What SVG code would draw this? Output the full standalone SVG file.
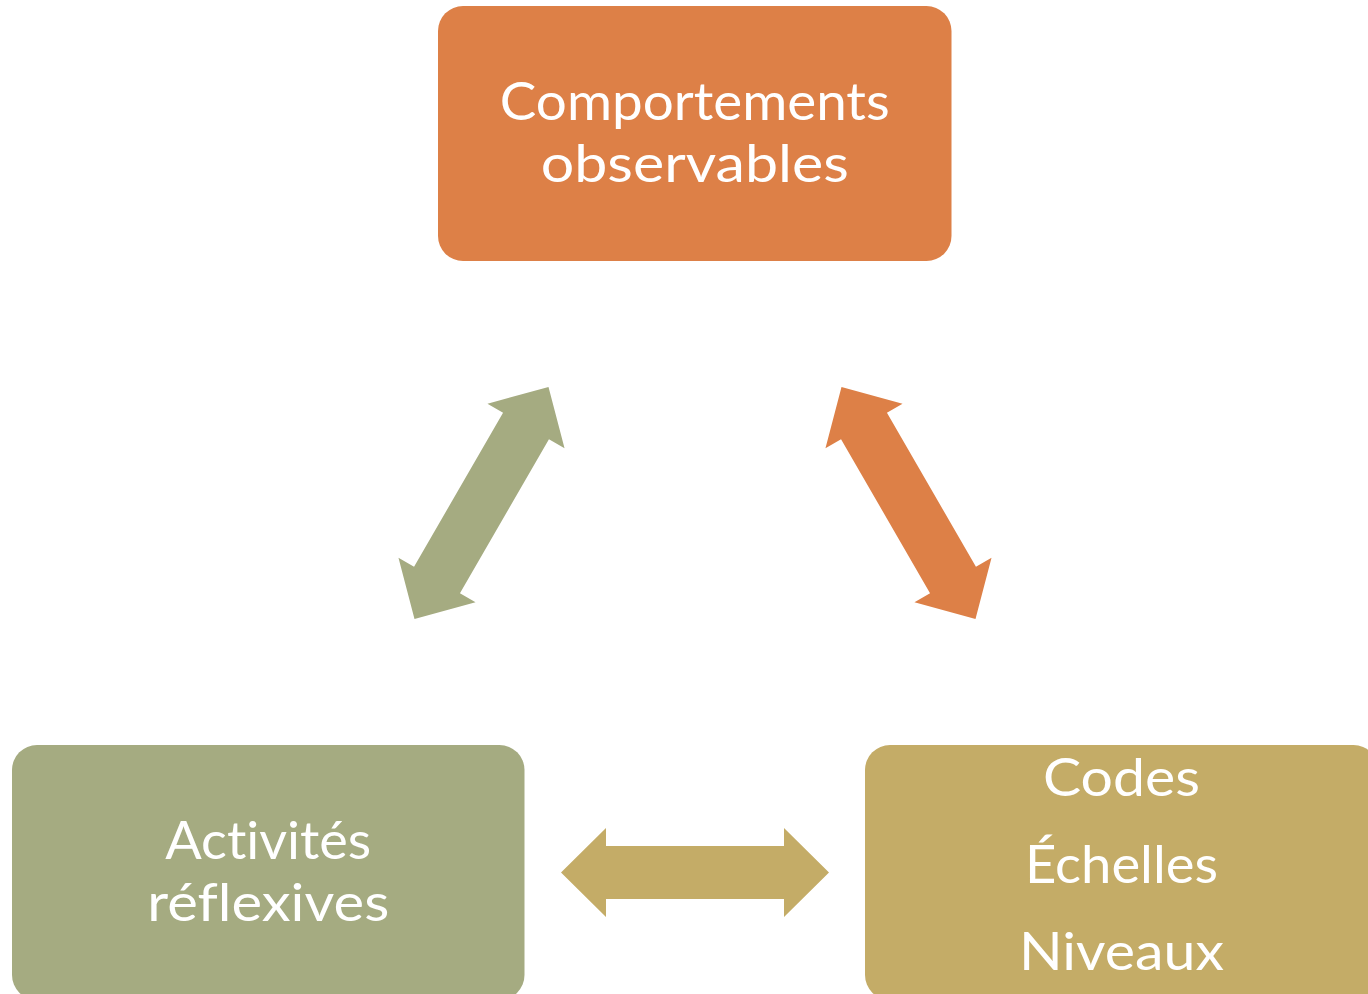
<svg xmlns="http://www.w3.org/2000/svg" width="1368" height="994" viewBox="0 0 1368 994">
  <style>
    .lbl { font-family: Lato, "Liberation Sans", sans-serif; font-size: 52px; fill: #FFFFFF; text-anchor: middle; font-variant-ligatures: none; font-feature-settings: "liga" 0, "clig" 0, "dlig" 0; }
  </style>
  <defs>
    <path id="dblArrow" d="M -134 0 L -89 -44.5 L -89 -26.5 L 89 -26.5 L 89 -44.5 L 134 0 L 89 44.5 L 89 26.5 L -89 26.5 L -89 44.5 Z"/>
  </defs>
  <rect width="1368" height="994" fill="#FFFFFF"/>
  <g id="connectors">
    <use href="#dblArrow" fill="#A5AB81" transform="translate(481.5 503) rotate(-60)"/>
    <use href="#dblArrow" fill="#DD8047" transform="translate(908.5 503) rotate(60)"/>
    <use href="#dblArrow" fill="#C4AC67" transform="translate(695 872.5)"/>
  </g>
  <g id="node-comportements">
    <rect x="438" y="6" width="513.5" height="255" rx="25" ry="25" fill="#DD8047"/>
    <text class="lbl" x="694.75" y="120" textLength="390" lengthAdjust="spacingAndGlyphs">Comportements</text>
    <text class="lbl" x="694.75" y="182" textLength="308" lengthAdjust="spacingAndGlyphs">observables</text>
  </g>
  <g id="node-activites">
    <rect x="12" y="745" width="512.5" height="255" rx="25" ry="25" fill="#A5AB81"/>
    <text class="lbl" x="268.25" y="859" textLength="206" lengthAdjust="spacingAndGlyphs">Activités</text>
    <text class="lbl" x="268.25" y="921" textLength="242" lengthAdjust="spacingAndGlyphs">réflexives</text>
  </g>
  <g id="node-codes">
    <rect x="865" y="745" width="513.5" height="255" rx="25" ry="25" fill="#C4AC67"/>
    <text class="lbl" x="1121.5" y="796" textLength="157" lengthAdjust="spacingAndGlyphs">Codes</text>
    <text class="lbl" x="1121.5" y="883" textLength="193" lengthAdjust="spacingAndGlyphs">Échelles</text>
    <text class="lbl" x="1121.5" y="970" textLength="205" lengthAdjust="spacingAndGlyphs">Niveaux</text>
  </g>
</svg>
